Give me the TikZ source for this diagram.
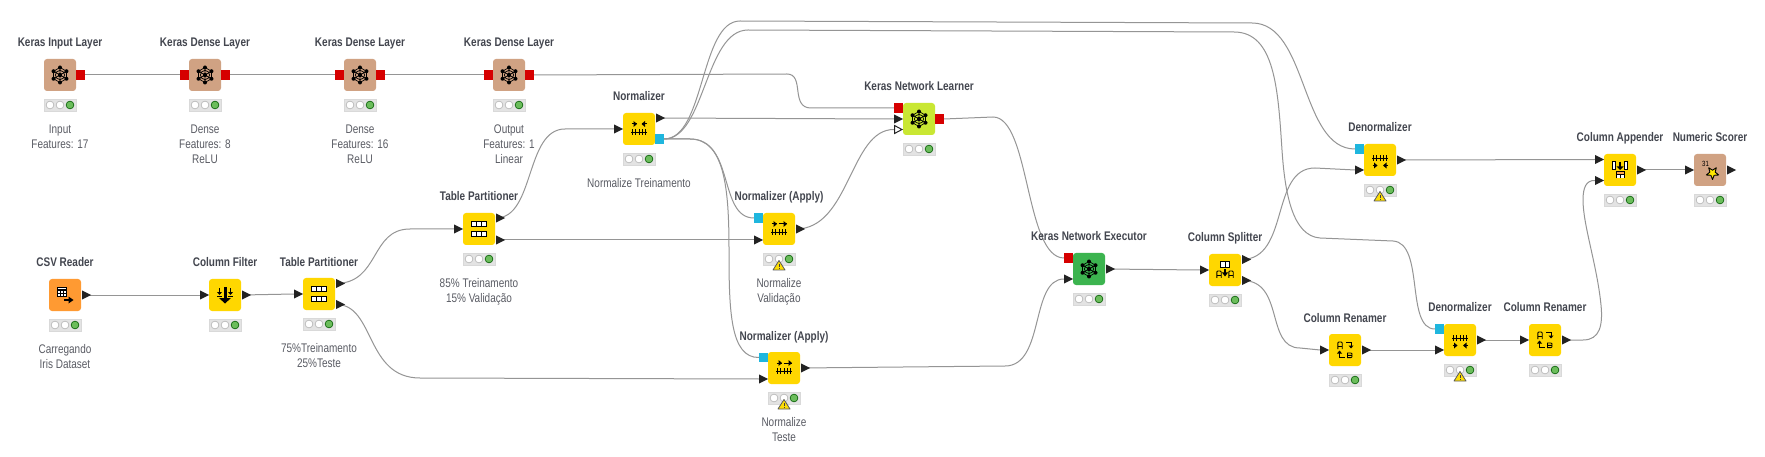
\documentclass[tikz,border=0pt]{standalone}
\usepackage{fontspec}
\setmainfont{Liberation Sans}[FakeStretch=0.8]
\usetikzlibrary{calc,backgrounds}
\definecolor{kbrown}{HTML}{D0A283}
\definecolor{kyellow}{HTML}{FFD700}
\definecolor{korange}{HTML}{FF9A32}
\definecolor{klime}{HTML}{C9E733}
\definecolor{kgreen}{HTML}{3CB44F}
\definecolor{kred}{HTML}{D60000}
\definecolor{kteal}{HTML}{1FB6DE}
\definecolor{ktri}{HTML}{222222}
\definecolor{kline}{HTML}{959595}
\definecolor{ktitle}{HTML}{43464F}
\definecolor{kdesc}{HTML}{5A5C64}
\definecolor{kled}{HTML}{6BBD5B}
\tikzset{
  knime/.style={rounded corners=3pt,minimum width=32pt,minimum height=32pt,inner sep=0pt,outer sep=0pt,fill=#1},
  ktitlet/.style={anchor=base,inner sep=0pt,text=ktitle,font=\fontsize{12.5}{15}\selectfont\bfseries},
  kdesct/.style={anchor=north,inner sep=0pt,align=center,text=kdesc,font=\fontsize{12.5}{15}\selectfont},
  kstatus/.style={minimum width=32pt,minimum height=12pt,inner sep=0pt,fill=black!11,draw=black!15,line width=.6pt},
  ledoff/.style={fill=white,draw=black!30,line width=.6pt},
  ledon/.style={fill=kled,draw=green!35!black,line width=.6pt},
  conn/.style={draw=kline,line width=1pt},
  ic/.style={line width=1pt,draw=black},
}
% name, x, y, colour, title
\newcommand\knode[5]{%
  \node[knime=#4] (#1) at (#2,#3) {};
  \node[ktitlet] (#1-t) at ($(#1)+(0,-28)$) {#5};
  \node[kstatus] (#1-s) at ($(#1)+(0,30)$) {};
  \path[ledoff] ($(#1-s)+(-10,0)$) circle (3.9pt) ($(#1-s)+(0,0)$) circle (3.9pt);
  \path[ledon] ($(#1-s)+(10,0)$) circle (3.9pt);
}
\newcommand\kdesc[2]{\node[kdesct] (#1-d) at ($(#1)+(0,49.5)$) {#2};}
\newcommand\kwarn[1]{%
  \path[fill=yellow!80!orange,draw=black!65,line width=.8pt,line join=round]
    ($(#1-s)+(0,1.5)$) -- ($(#1-s)+(6,11)$) -- ($(#1-s)+(-6,11)$) -- cycle;
  \draw[black!75,line width=1pt] ($(#1-s)+(0,5)$) -- ($(#1-s)+(0,8)$) ($(#1-s)+(0,9)$) -- ($(#1-s)+(0,10)$);
}
% black triangles: suffix, parent, dy
\newcommand\pinT[3]{\coordinate (#2#1) at ($(#2)+(-25,#3)$);
  \fill[ktri] ($(#2#1)+(0,-4.6)$) -- ($(#2#1)+(9,0)$) -- ($(#2#1)+(0,4.6)$) -- cycle;}
\newcommand\poutT[3]{\coordinate (#2#1) at ($(#2)+(17,#3)$);
  \fill[ktri] ($(#2#1)+(0,-4.6)$) -- ($(#2#1)+(9,0)$) -- ($(#2#1)+(0,4.6)$) -- cycle;}
% square ports: suffix, parent, dy, colour
\newcommand\pinS[4]{\coordinate (#2#1) at ($(#2)+(-25,#3)$);
  \fill[#4] ($(#2#1)+(0,-4.6)$) rectangle ($(#2#1)+(9,4.6)$);}
\newcommand\poutS[4]{\coordinate (#2#1) at ($(#2)+(25,#3)$);
  \fill[#4] ($(#2#1)+(-9,-4.6)$) rectangle ($(#2#1)+(0,4.6)$);}
% icons
\newcommand\icNet[1]{\begin{scope}[shift={(#1)}]
  \draw[line width=.7pt] (30:7.5) -- (90:7.5) -- (150:7.5) -- (210:7.5) -- (270:7.5) -- (330:7.5) -- cycle;
  \draw[line width=.7pt] (30:7.5) -- (210:7.5) (90:7.5) -- (270:7.5) (150:7.5) -- (330:7.5);
  \draw[line width=.7pt] (0,0) circle (4.6pt);
  \foreach \a in {30,90,150,210,270,330} {\fill (\a:7.5) circle (2pt);}
  \fill (0,0) circle (2.2pt);
\end{scope}}
\newcommand\icTable[1]{\begin{scope}[shift={(#1)}]
  \foreach \yy in {-7.5,2.5} {
    \draw[ic,fill=white] (-7.8,\yy) rectangle (7.8,\yy+5);
    \draw[ic] (-2.6,\yy) -- (-2.6,\yy+5) (2.6,\yy) -- (2.6,\yy+5);}
\end{scope}}
\newcommand\icCsv[1]{\begin{scope}[shift={(#1)}]
  \draw[line width=.9pt,fill=white] (-7.5,-7.5) rectangle (1.5,1.5);
  \draw[line width=1.6pt] (-7.5,-5) -- (1.5,-5);
  \draw[line width=.7pt] (-7.5,-2) -- (1.5,-2) (-4.5,-5) -- (-4.5,1.5) (-1.5,-5) -- (-1.5,1.5);
  \draw[line width=1.3pt] (-1,5) -- (5,5);
  \fill (3.5,1.5) -- (8.5,5) -- (3.5,8.5) -- cycle;
\end{scope}}
\newcommand\icFilter[1]{\begin{scope}[shift={(#1)}]
  \fill (-1.5,-8) rectangle (1.5,4);
  \fill (-6,3) -- (6,3) -- (0,8.5) -- cycle;
  \draw[line width=1pt] (-8,1) -- (-3,1) (3,1) -- (8,1);
  \draw[line width=1pt] (-5.5,-7) -- (-5.5,-2) (5.5,-7) -- (5.5,-2);
  \fill (-8,-3) -- (-3,-3) -- (-5.5,0) -- cycle (3,-3) -- (8,-3) -- (5.5,0) -- cycle;
\end{scope}}
\newcommand\icRuler[1]{%
  \draw[line width=.9pt] (-8,#1) -- (8,#1);
  \foreach \xx in {-6.5,-3.2,0,3.2,6.5} {\draw[line width=.8pt] (\xx,#1-2.8) -- (\xx,#1+2.8);}
}
\newcommand\arR[3]{\draw[line width=1pt] (#1,#3) -- (#2,#3); \fill (#2-3,#3-3) -- (#2+.5,#3) -- (#2-3,#3+3) -- cycle;}
\newcommand\arL[3]{\draw[line width=1pt] (#1,#3) -- (#2,#3); \fill (#2+3,#3-3) -- (#2-.5,#3) -- (#2+3,#3+3) -- cycle;}
\newcommand\icNorm[1]{\begin{scope}[shift={(#1)}]
  \arR{-7.5}{-2.5}{-5} \arL{8}{3}{-5} \icRuler{3}
\end{scope}}
\newcommand\icApply[1]{\begin{scope}[shift={(#1)}]
  \arR{-7.5}{-2.5}{-5} \arR{-.5}{7.5}{-5} \icRuler{3}
\end{scope}}
\newcommand\icDenorm[1]{\begin{scope}[shift={(#1)}]
  \icRuler{-2} \arR{-7.5}{-3}{5.5} \arL{8}{3.5}{5.5}
\end{scope}}
\newcommand\letA[2]{\draw[line width=.9pt] (#1-2.2,#2+3.5) -- (#1-2.2,#2-2.5) -- (#1-1.2,#2-3.5) -- (#1+1.2,#2-3.5) -- (#1+2.2,#2-2.5) -- (#1+2.2,#2+3.5) (#1-2.2,#2+1) -- (#1+2.2,#2+1);}
\newcommand\icSplit[1]{\begin{scope}[shift={(#1)}]
  \draw[ic,fill=white] (-4.5,-8.5) rectangle (4.5,-2.5);
  \draw[ic] (0,-8.5) -- (0,-2.5);
  \letA{-6}{4.5}\letA{6}{4.5}
  \fill (-1,-1) rectangle (1,3);
  \fill (-3,2.5) -- (3,2.5) -- (0,6.5) -- cycle;
\end{scope}}
\newcommand\icRename[1]{\begin{scope}[shift={(#1)}]
  \letA{-5}{-4.5}
  \draw[line width=1pt] (1,-8) -- (6,-8) -- (6,-4);
  \fill (3.5,-4.5) -- (8.5,-4.5) -- (6,-1.5) -- cycle;
  \draw[line width=1pt] (-5.5,3) -- (-5.5,7.5) -- (0,7.5);
  \fill (-8,3.5) -- (-3,3.5) -- (-5.5,.5) -- cycle;
  \draw[line width=.9pt] (2.5,3) -- (6,3) -- (7,3.8) -- (7,6.8) -- (6,7.6) -- (2.5,7.6) -- cycle (2.5,5.3) -- (7,5.3);
\end{scope}}
\newcommand\icAppend[1]{\begin{scope}[shift={(#1)}]
  \draw[line width=1pt,fill=white] (-7.5,-8) rectangle (-4.5,-.5) (4.5,-8) rectangle (7.5,-.5);
  \fill (-1,-8) rectangle (1,-3);
  \fill (-3.5,-3.5) -- (3.5,-3.5) -- (0,0) -- cycle;
  \fill[white] (-4,2) rectangle (4,8.5);
  \fill[orange!70] (-4,2) rectangle (4,5);
  \draw[line width=1pt] (-4,8.5) -- (-4,2) -- (4,2) -- (4,8.5) (0,5) -- (0,8.5) (-4,5) -- (4,5);
\end{scope}}
\newcommand\icScorer[1]{\begin{scope}[shift={(#1)}]
  \node[inner sep=0pt,font=\fontsize{7.5}{8}\selectfont] (#1-n) at (-4.5,-6) {31};
  \draw[fill=yellow!90!orange,line width=.9pt,line join=round,shift={(2.5,3)}]
    (90:6.5) -- (126:2.8) -- (162:6.5) -- (198:2.8) -- (234:6.5) -- (270:2.8) -- (306:6.5) -- (342:2.8) -- (18:6.5) -- (54:2.8) -- cycle;
\end{scope}}
\begin{document}
\begin{tikzpicture}[x=1pt,y=-1pt]
\useasboundingbox (0,0) rectangle (1765,457);
% ---- nodes
\knode{input}{60}{75}{kbrown}{Keras Input Layer}
\knode{da}{205}{75}{kbrown}{Keras Dense Layer}
\knode{db}{360}{75}{kbrown}{Keras Dense Layer}
\knode{dc}{509}{75}{kbrown}{Keras Dense Layer}
\knode{csv}{65}{295}{korange}{CSV Reader}
\knode{filter}{225}{295}{kyellow}{Column Filter}
\knode{tpa}{319}{294}{kyellow}{Table Partitioner}
\knode{tpb}{479}{229}{kyellow}{Table Partitioner}
\knode{norm}{639}{129}{kyellow}{Normalizer}
\knode{appa}{779}{229}{kyellow}{Normalizer (Apply)}
\knode{appb}{784}{368}{kyellow}{Normalizer (Apply)}
\knode{learn}{919}{119}{klime}{Keras Network Learner}
\knode{exec}{1089}{269}{kgreen}{Keras Network Executor}
\knode{split}{1225}{270}{kyellow}{Column Splitter}
\knode{dena}{1380}{160}{kyellow}{Denormalizer}
\knode{rena}{1345}{350}{kyellow}{Column Renamer}
\knode{denb}{1460}{340}{kyellow}{Denormalizer}
\knode{renb}{1545}{340}{kyellow}{Column Renamer}
\knode{app}{1620}{170}{kyellow}{Column Appender}
\knode{score}{1710}{170}{kbrown}{Numeric Scorer}
% ---- warnings
\kwarn{appa}\kwarn{appb}\kwarn{dena}\kwarn{denb}
% ---- descriptions
\kdesc{input}{Input\\Features: 17}
\kdesc{da}{Dense\\Features: 8\\ReLU}
\kdesc{db}{Dense\\Features: 16\\ReLU}
\kdesc{dc}{Output\\Features: 1\\Linear}
\kdesc{csv}{Carregando\\Iris Dataset}
\kdesc{tpa}{75\%Treinamento\\25\%Teste}
\kdesc{tpb}{85\% Treinamento\\15\% Validação}
\kdesc{norm}{Normalize Treinamento}
\kdesc{appa}{Normalize\\Validação}
\kdesc{appb}{Normalize\\Teste}
% ---- icons
\icNet{input}\icNet{da}\icNet{db}\icNet{dc}\icNet{learn}\icNet{exec}
\icCsv{csv}\icFilter{filter}\icTable{tpa}\icTable{tpb}
\icNorm{norm}\icApply{appa}\icApply{appb}\icDenorm{dena}\icDenorm{denb}
\icSplit{split}\icRename{rena}\icRename{renb}\icAppend{app}\icScorer{score}
% ---- ports
\poutS{o}{input}{0}{kred}
\pinS{i}{da}{0}{kred}\poutS{o}{da}{0}{kred}
\pinS{i}{db}{0}{kred}\poutS{o}{db}{0}{kred}
\pinS{i}{dc}{0}{kred}\poutS{o}{dc}{0}{kred}
\poutT{o}{csv}{0}
\pinT{i}{filter}{0}\poutT{o}{filter}{0}
\pinT{i}{tpa}{0}\poutT{a}{tpa}{-10.5}\poutT{b}{tpa}{10.5}
\pinT{i}{tpb}{0}\poutT{a}{tpb}{-11}\poutT{b}{tpb}{11}
\pinT{i}{norm}{0}\poutT{a}{norm}{-11}\poutS{b}{norm}{10}{kteal}
\pinS{m}{appa}{-11}{kteal}\pinT{i}{appa}{11}\poutT{o}{appa}{0}
\pinS{m}{appb}{-10.5}{kteal}\pinT{i}{appb}{11}\poutT{o}{appb}{0}
\pinS{n}{learn}{-11}{kred}\pinT{i}{learn}{0}\poutS{o}{learn}{0}{kred}
\coordinate (learnw) at ($(learn)+(-25,10.5)$);
\path[fill=white,draw=ktri,line width=1pt,line join=miter] ($(learnw)+(.5,-4)$) -- ($(learnw)+(8,0)$) -- ($(learnw)+(.5,4)$) -- cycle;
\pinS{n}{exec}{-11}{kred}\pinT{i}{exec}{10}\poutT{o}{exec}{0}
\pinT{i}{split}{0}\poutT{a}{split}{-10.5}\poutT{b}{split}{10.5}
\pinS{m}{dena}{-11}{kteal}\pinT{i}{dena}{10}\poutT{o}{dena}{0}
\pinT{i}{rena}{0}\poutT{o}{rena}{0}
\pinS{m}{denb}{-11}{kteal}\pinT{i}{denb}{10}\poutT{o}{denb}{0}
\pinT{i}{renb}{0}\poutT{o}{renb}{0}
\pinT{a}{app}{-10.5}\pinT{b}{app}{10.5}\poutT{o}{app}{0}
\pinT{i}{score}{0}\poutT{o}{score}{0}
% ---- connectors
\begin{pgfonlayer}{background}
\fill[white] (0,0) rectangle (1765,457);
\path[conn] (inputo) -- (dai);
\path[conn] (dao) -- (dbi);
\path[conn] (dbo) -- (dci);
\path[conn] (dco) -- (787,74) .. controls (805,74) and (790,108) .. (811,108) -- (learnn);
\path[conn] (csvo) -- (filteri);
\path[conn] (filtero) -- (tpai);
\path[conn] (tpaa) .. controls (380,283) and (370,229) .. (410,229) -- (tpbi);
\path[conn] (tpab) .. controls (375,304) and (365,378) .. (420,378) -- (appbi);
\path[conn] (tpba) .. controls (535,218) and (525,129) .. (565,129) -- (normi);
\path[conn] (tpbb) -- (appai);
\path[conn] (norma) -- (learni);
\path[conn] (normb) .. controls (705,139) and (700,21) .. (740,21) -- (1252,23) .. controls (1308,23) and (1300,149) .. (denam);
\path[conn] (normb) .. controls (705,139) and (705,30) .. (748,30) -- (1234,32) .. controls (1275,32) and (1278,90) .. (1282,150) .. controls (1285,195) and (1293,236) .. (1320,238) -- (1393,241) .. controls (1425,243) and (1405,329) .. (denbm);
\path[conn] (normb) -- (690,139) .. controls (735,139) and (718,218) .. (appam);
\path[conn] (normb) -- (690,139) .. controls (725,139) and (729,190) .. (729,250) .. controls (729,310) and (730,358) .. (appbm);
\path[conn] (appao) .. controls (850,229) and (850,129) .. (learnw);
\path[conn] (learno) -- (993,117) .. controls (1030,117) and (1025,258) .. (execn);
\path[conn] (appbo) -- (1005,366) .. controls (1045,366) and (1030,279) .. (execi);
\path[conn] (execo) -- (spliti);
\path[conn] (splita) .. controls (1290,259) and (1270,168) .. (1315,168) -- (denai);
\path[conn] (splitb) .. controls (1285,280) and (1265,348) .. (1300,348) -- (renai);
\path[conn] (renao) -- (denbi);
\path[conn] (denbo) -- (renbi);
\path[conn] (renbo) -- (1583,340) .. controls (1600,340) and (1603,325) .. (1601,305) .. controls (1597,265) and (1583,225) .. (1583,200) .. controls (1583,188) and (1586,180) .. (appb);
\path[conn] (denao) -- (appa);
\path[conn] (appo) -- (scorei);
\end{pgfonlayer}
\end{tikzpicture}
\end{document}
